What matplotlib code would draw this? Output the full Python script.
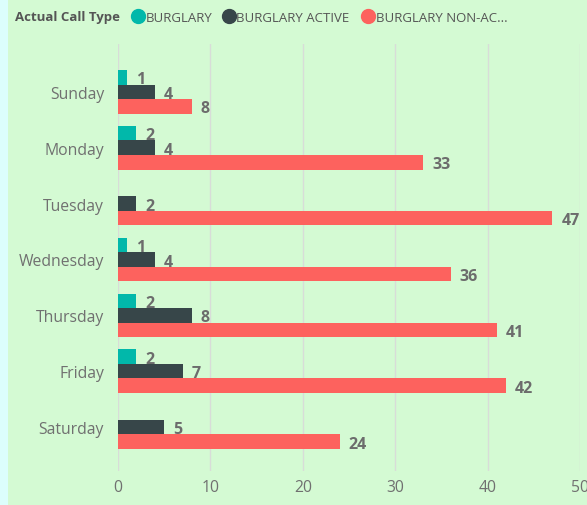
import numpy as np
import matplotlib
matplotlib.use("Agg")
import matplotlib.pyplot as plt
from matplotlib.lines import Line2D

# data
days = ["Sunday", "Monday", "Tuesday", "Wednesday", "Thursday", "Friday", "Saturday"]
burglary = [1, 2, 0, 1, 2, 2, 0]
burglary_active = [4, 4, 2, 4, 8, 7, 5]
burglary_non_active = [8, 33, 47, 36, 41, 42, 24]
series_names = ["BURGLARY", "BURGLARY ACTIVE", "BURGLARY NON-AC..."]
colors = ["#01B8AA", "#374649", "#FD625E"]
xticks = [0, 10, 20, 30, 40, 50]

plt.rcParams['font.family'] = ['Open Sans', 'DejaVu Sans']

W, H = 587, 506
fig = plt.figure(figsize=(W / 100, H / 100), dpi=100)
fig.patch.set_facecolor("#D4FAD3")
# light cyan strip on the left edge
fig.add_artist(plt.Rectangle((0, 0), 8 / W, 1, transform=fig.transFigure,
                             facecolor="#DCFEFC", edgecolor="none"))

ax = fig.add_axes([118 / W, 1 - 472 / H, 462 / W, 427 / H])
ax.set_facecolor("none")

y = np.arange(len(days))
bar_h = 0.26
all_series = [burglary, burglary_active, burglary_non_active]
for k, (vals, col) in enumerate(zip(all_series, colors)):
    pos = y + (k - 1) * bar_h
    for yy, v in zip(pos, vals):
        if v == 0:
            continue
        ax.barh(yy, v, height=bar_h, color=col, edgecolor="none", zorder=3)
        ax.annotate(str(v), (v, yy), xytext=(6.5, -1.5), textcoords="offset points",
                    va="center", ha="left", fontsize=11.5, color="#6c6c6c",
                    fontweight="bold", zorder=4)

ax.set_xlim(0, 50)
ax.set_ylim(6 + (472 - 428) / 56, -(93 - 45) / 56)
ax.set_yticks(y)
ax.set_yticklabels(days)
ax.set_xticks(xticks)
ax.tick_params(axis="both", length=0, labelsize=11.3, colors="#707070")
ax.tick_params(axis="y", pad=10)
ax.tick_params(axis="x", pad=6)
ax.grid(axis="x", color="#d8dcd8", linewidth=1, zorder=0)
for s in ax.spines.values():
    s.set_visible(False)

# legend drawn in figure coordinates
fig.text(15 / W, 1 - 18 / H, "Actual Call Type", fontsize=9.5, color="#555555",
         fontweight="bold", va="center", ha="left")
circle_x = [138, 229, 368]
text_x = [146, 236, 376]
for cx, tx, name, col in zip(circle_x, text_x, series_names, colors):
    fig.add_artist(Line2D([cx / W], [1 - 17 / H], marker="o", markersize=10,
                          color=col, linestyle="none", transform=fig.transFigure))
    fig.text(tx / W, 1 - 18 / H, name, fontsize=9.5, color="#555555",
             va="center", ha="left")

fig.savefig("out.png", dpi=100, facecolor=fig.get_facecolor())
